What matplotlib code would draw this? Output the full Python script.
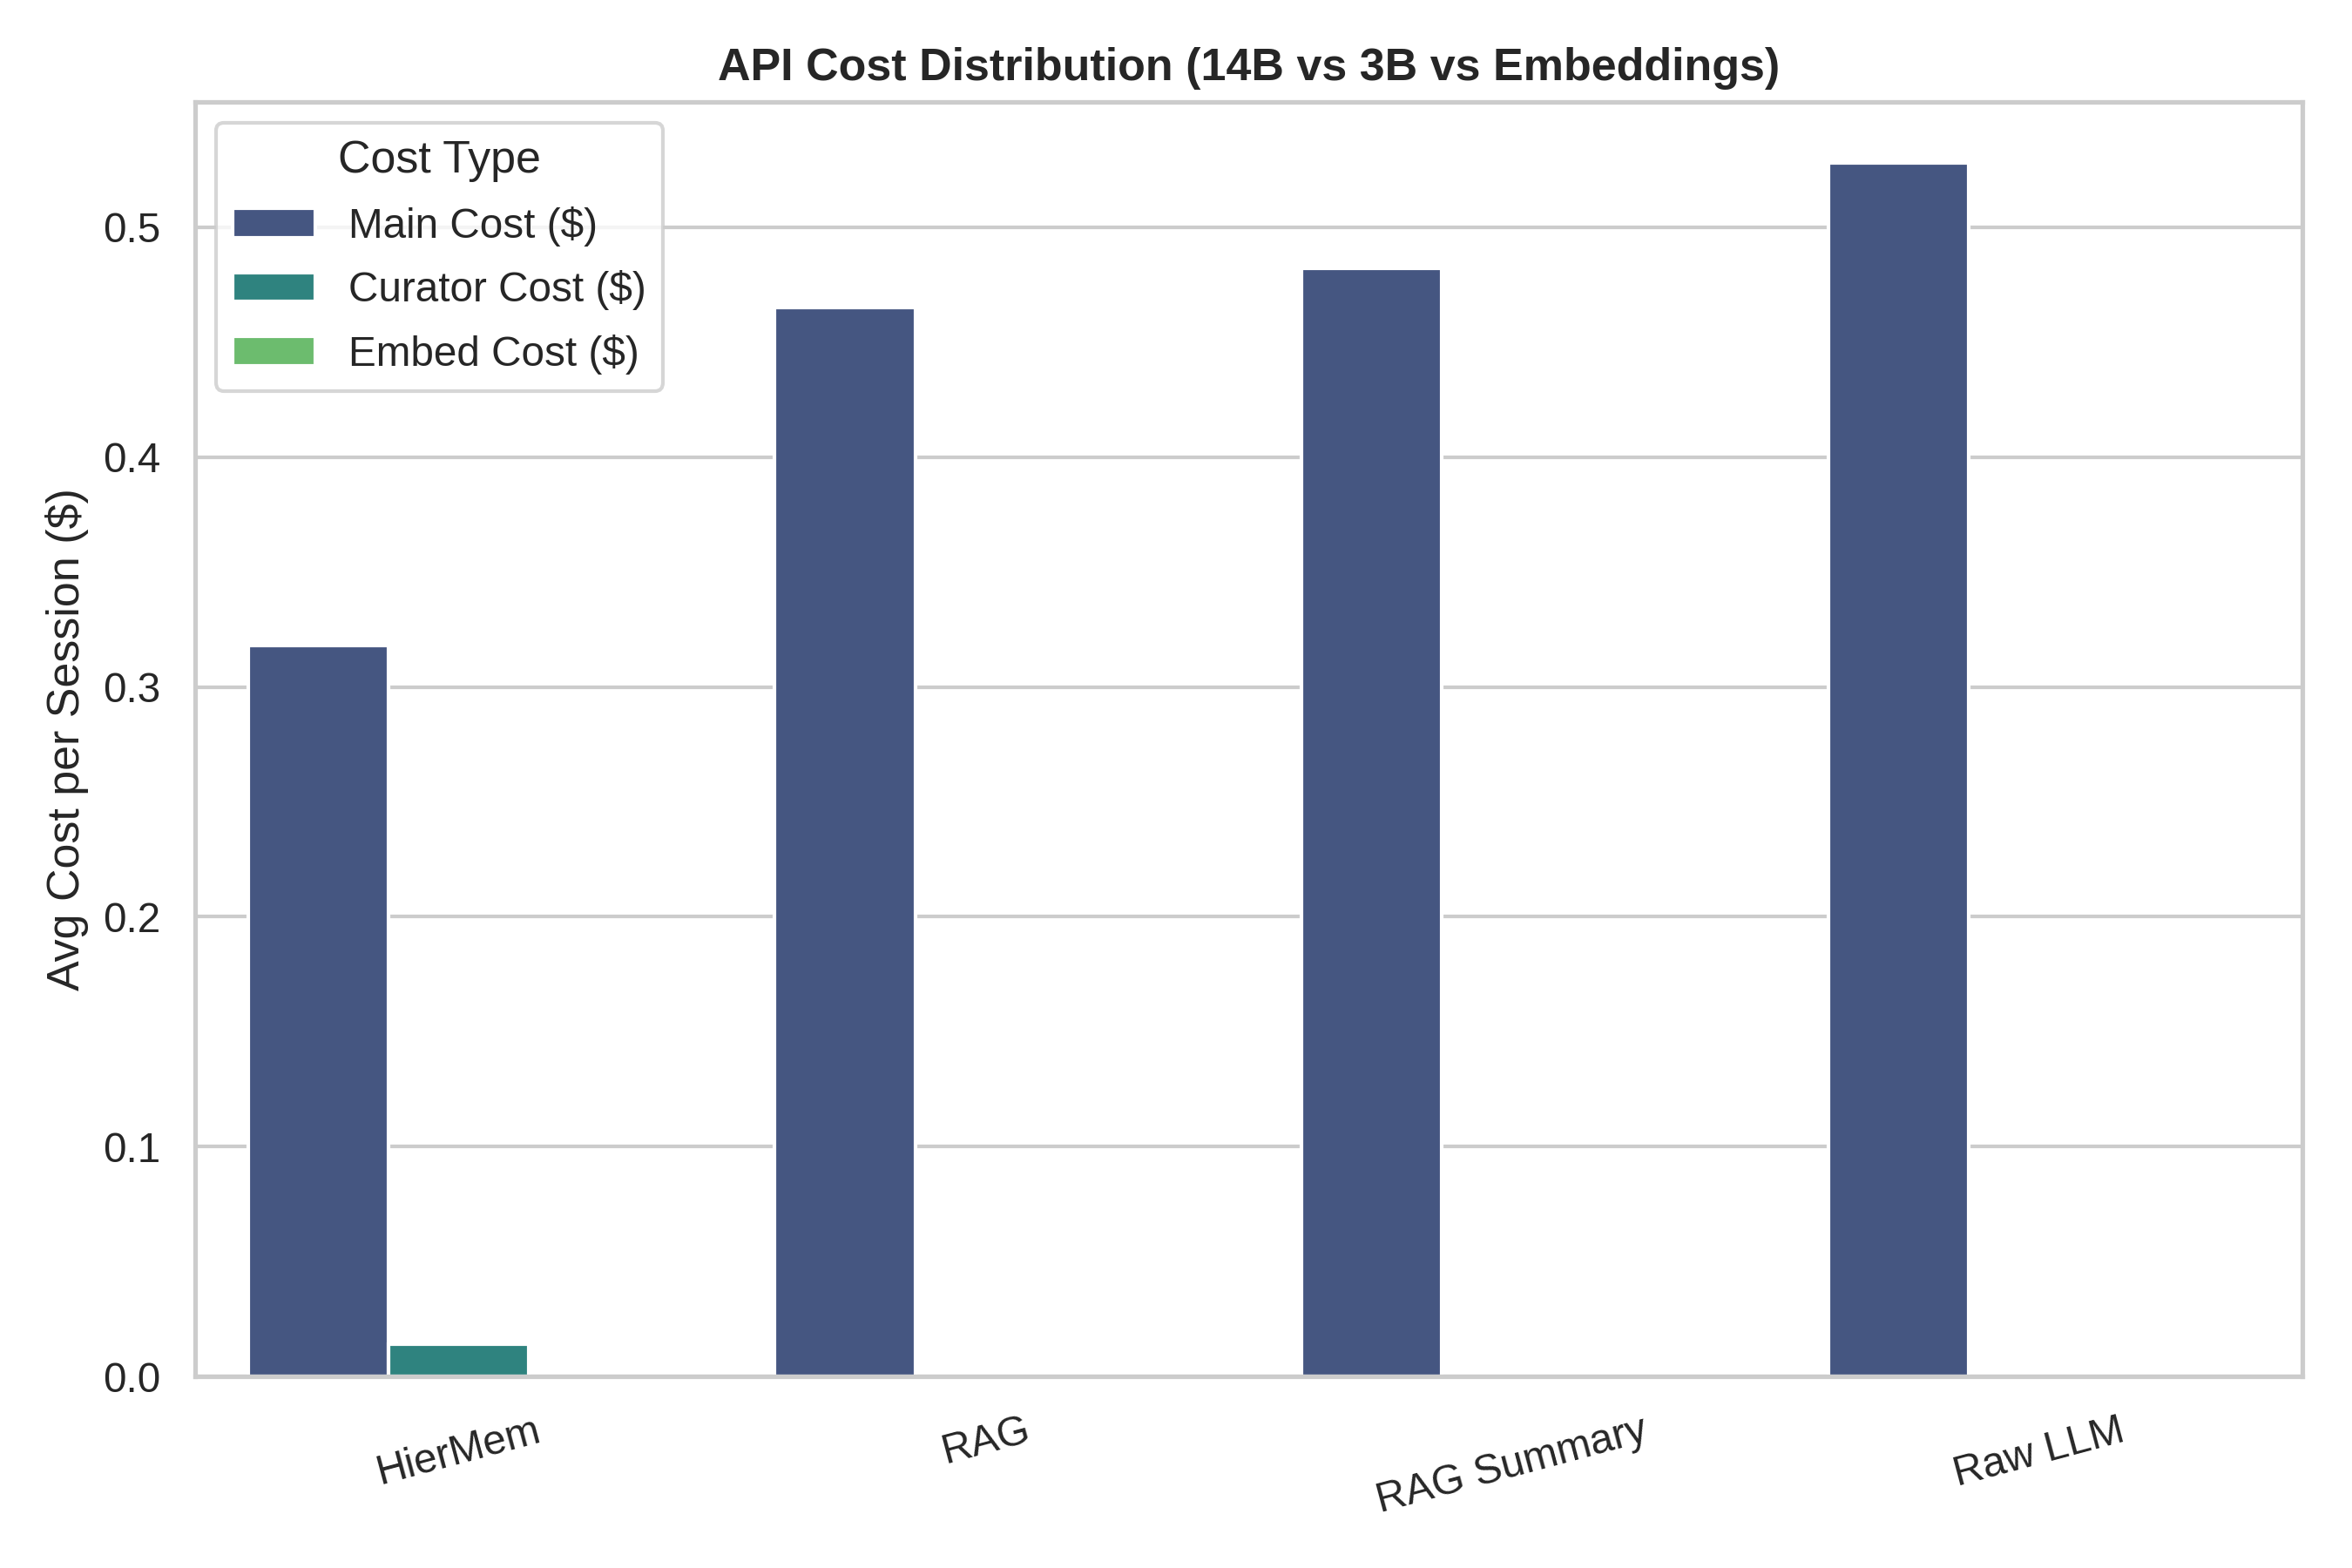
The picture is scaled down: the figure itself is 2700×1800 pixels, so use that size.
import matplotlib
matplotlib.use("Agg")
import matplotlib.pyplot as plt
import seaborn as sns
import pandas as pd

# values
methods = ["HierMem", "RAG", "RAG Summary", "Raw LLM"]
main_cost = [0.318, 0.465, 0.482, 0.528]
curator_cost = [0.0140, 0.0, 0.0, 0.0]
embed_cost = [0.0001, 0.0001, 0.0, 0.0]

df = pd.DataFrame({
    "Method": methods,
    "Main Cost ($)": main_cost,
    "Curator Cost ($)": curator_cost,
    "Embed Cost ($)": embed_cost,
})
long_df = df.melt(id_vars="Method", var_name="Cost Type", value_name="Cost")

sns.set_theme(style="whitegrid", font_scale=1.04)
plt.rcParams['font.family'] = ['Liberation Sans', 'DejaVu Sans']

fig, ax = plt.subplots(figsize=(9, 6), dpi=300)
sns.barplot(data=long_df, x="Method", y="Cost", hue="Cost Type",
            palette="viridis", ax=ax)

ax.set_title("API Cost Distribution (14B vs 3B vs Embeddings)", fontweight="bold")
ax.set_xlabel("")
ax.set_ylabel("Avg Cost per Session ($)")
plt.setp(ax.get_xticklabels(), rotation=15)
ax.legend(title="Cost Type", loc="upper left", labelspacing=0.58)

fig.subplots_adjust(left=0.083, right=0.979, top=0.935, bottom=0.122)
fig.savefig("out.png", dpi=300)
